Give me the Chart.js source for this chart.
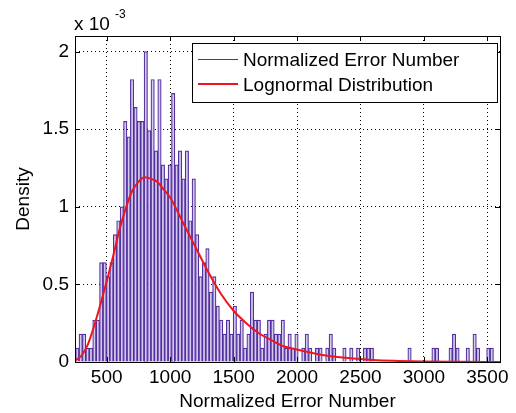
<!DOCTYPE html>
<html>
<head>
<title>Normalized Error Number</title>
<script src="https://cdn.jsdelivr.net/npm/chart.js@4.4.1/dist/chart.umd.min.js"></script>
<style>
body { margin:0; background:#fff; }
</style>
</head>
<body>
<canvas id="myChart" width="516" height="413"></canvas>

<script>
// histogram bins (bin centre = binStart + i*binWidth)
var binStart = 268;
var binWidth = 27;
// density per bin, in units of 1e-3
var density = [
 0.09,0.18,0.18,0.09,0.09,0.27,0.27,0.64,0.64,0.55,
 0.64,0.82,0.91,1.00,1.55,1.45,1.82,1.64,1.55,1.55,
 2.00,1.49,1.82,1.36,1.82,1.27,1.18,1.27,1.73,1.27,
 1.36,1.18,1.36,0.91,1.18,0.82,0.55,0.64,0.73,0.45,
 0.55,0.36,0.27,0.18,0.27,0.18,0.36,0.18,0.27,0.09,
 0.18,0.45,0.27,0.27,0.09,0.18,0.27,0.27,0.18,0.18,
 0.27,0.09,0.18,0.09,0.18,0,0.09,0.18,0.09,0,
 0.09,0.09,0,0.09,0.18,0.09,0,0,0.09,0,
 0.09,0,0.09,0,0.09,0.09,0.09,0,0,0,
 0,0,0,0,0,0,0,0.09,0,0,
 0,0,0,0,0.09,0.09,0,0,0,0.09,
 0.18,0.09,0,0,0.09,0,0.18,0.09,0,0,
 0.09,0.09
];
// lognormal curve
var fitX = [250,300,350,400,450,500,550,600,650,700,750,800,850,900,950,1000,
            1100,1200,1300,1400,1500,1600,1700,1800,1900,2000,2200,2400,2600,2800,3000,3300,3600];
var fitY = [0.01,0.04,0.11,0.23,0.37,0.52,0.68,0.85,0.99,1.10,1.16,1.19,1.18,1.16,1.11,1.06,
            0.90,0.74,0.58,0.44,0.33,0.25,0.185,0.14,0.10,0.08,0.045,0.025,0.013,0.007,0.003,0.001,0];
var xTicks = [500,1000,1500,2000,2500,3000,3500];
var yTicks = [0,0.5,1,1.5,2];
var seriesNames = ['Normalized Error Number','Lognormal Distribution'];

var purple = 'rgb(82,46,158)';
var lilac = 'rgb(212,202,238)';
var red = 'rgb(238,22,30)';
var FONT = '"Liberation Sans", Arial, sans-serif';

var histData = density.map(function(v, i){ return {x: binStart + i*binWidth, y: v}; });
var fitData = fitX.map(function(v, i){ return {x: v, y: fitY[i]}; });

var frame = {
  id: 'frame',
  afterDraw: function(c) {
    var a = c.chartArea, xs = c.scales.x, ys = c.scales.y, g = c.ctx;
    g.save();
    g.strokeStyle = '#000';
    g.lineWidth = 1;
    g.beginPath();
    xTicks.forEach(function(v){
      var p = Math.round(xs.getPixelForValue(v)) + 0.5;
      g.moveTo(p, a.bottom); g.lineTo(p, a.bottom - 5);
      g.moveTo(p, a.top); g.lineTo(p, a.top + 5);
    });
    yTicks.forEach(function(v){
      var p = Math.round(ys.getPixelForValue(v)) + 0.5;
      g.moveTo(a.left, p); g.lineTo(a.left + 5, p);
      g.moveTo(a.right, p); g.lineTo(a.right - 5, p);
    });
    g.stroke();
    g.strokeRect(Math.round(a.left) + 0.5, Math.round(a.top) + 0.5,
                 Math.round(a.right - a.left), Math.round(a.bottom - a.top));

    // legend
    g.fillStyle = '#fff';
    g.fillRect(192, 43, 305, 59);
    g.strokeRect(192.5, 43.5, 305, 59);
    g.beginPath();
    g.strokeStyle = purple; g.lineWidth = 1;
    g.moveTo(198, 59.5); g.lineTo(238, 59.5);
    g.stroke();
    g.beginPath();
    g.strokeStyle = red; g.lineWidth = 2;
    g.moveTo(198, 84); g.lineTo(238, 84);
    g.stroke();
    g.fillStyle = '#000';
    g.font = '19px ' + FONT;
    g.textBaseline = 'alphabetic';
    g.fillText(seriesNames[0], 243, 66);
    g.fillText(seriesNames[1], 243, 91);

    // exponent label
    g.fillText('x 10', 74, 30);
    g.font = '12px ' + FONT;
    g.fillText('-3', 115, 18);
    g.restore();
  }
};

var ctx = document.getElementById('myChart').getContext('2d');
var chart = new Chart(ctx, {
  type: 'bar',
  data: {
    datasets: [
      { type: 'line', label: seriesNames[1], data: fitData, borderColor: red, borderWidth: 2,
        pointRadius: 0, cubicInterpolationMode: 'monotone', order: 0 },
      { type: 'bar', label: seriesNames[0], data: histData, backgroundColor: lilac,
        borderColor: purple, borderWidth: 1.2, barPercentage: 1, categoryPercentage: 1, order: 1 }
    ]
  },
  options: {
    responsive: false,
    animation: false,
    devicePixelRatio: 1,
    layout: { padding: { left: 0, right: 16, top: 36, bottom: 0 } },
    plugins: { legend: { display: false }, tooltip: { enabled: false } },
    scales: {
      x: {
        type: 'linear', min: 250, max: 3600, offset: false,
        afterBuildTicks: function(s){ s.ticks = xTicks.map(function(v){ return {value: v}; }); },
        afterFit: function(s){ s.height = 51; },
        ticks: { color: '#000', font: { family: FONT, size: 19 }, padding: 4, maxRotation: 0,
                 callback: function(v){ return String(v); } },
        grid: { color: '#000', lineWidth: 1, drawTicks: false, offset: false },
        border: { display: false, dash: [1, 3] },
        title: { display: true, text: 'Normalized Error Number', color: '#000',
                 font: { family: FONT, size: 19 }, padding: { top: 0, bottom: 0 } }
      },
      y: {
        min: 0, max: 2.1,
        afterBuildTicks: function(s){ s.ticks = yTicks.map(function(v){ return {value: v}; }); },
        afterFit: function(s){ s.width = 75; },
        ticks: { color: '#000', font: { family: FONT, size: 19 }, padding: 6,
                 callback: function(v){ return String(v); } },
        grid: { color: '#000', lineWidth: 1, drawTicks: false },
        border: { display: false, dash: [1, 3] },
        title: { display: true, text: 'Density', color: '#000',
                 font: { family: FONT, size: 19 }, padding: { top: 12, bottom: 0 } }
      }
    }
  },
  plugins: [frame]
});
</script>
</body>
</html>
